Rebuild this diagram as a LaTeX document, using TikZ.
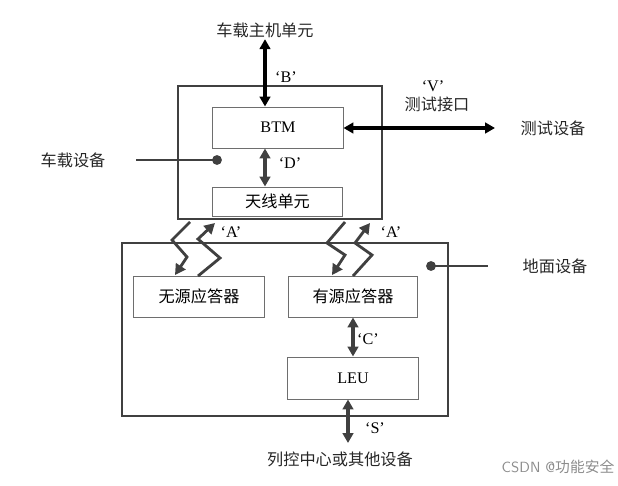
\documentclass[tikz,border=0pt]{standalone}
\usepackage{fontspec}
\setmainfont{Liberation Serif}
\newfontfamily\cjk{Noto Sans CJK SC}
\usetikzlibrary{positioning}
\usetikzlibrary{arrows.meta}
\definecolor{linegray}{HTML}{404040}
\definecolor{boxgray}{HTML}{6E6E6E}
\tikzset{
    outerbox/.style = {rectangle, draw=linegray, line width=1.4pt, inner sep=0pt},
    innerbox/.style = {rectangle, draw=boxgray, line width=0.7pt, inner sep=0pt, font=\fontsize{11.5}{14}\selectfont},
    cjktext/.style = {inner sep=1pt, font=\cjk\fontsize{11.5}{14}\selectfont, text=black!85},
    tagtext/.style = {inner sep=1pt, font=\fontsize{11.5}{14}\selectfont},
    edgek/.style = {{Triangle[length=7pt,width=7.5pt]}-{Triangle[length=7pt,width=7.5pt]}, line width=2.2pt, black},
    edgeg/.style = {{Triangle[length=7pt,width=7.5pt]}-{Triangle[length=7pt,width=7.5pt]}, line width=2.2pt, linegray},
    edgez/.style = {-{Triangle[length=7.5pt,width=8pt]}, line width=2pt, linegray, line join=miter},
    edgep/.style = {line width=1.4pt, linegray},
    dotend/.style = {circle, fill=linegray, inner sep=0pt, minimum size=7pt},
}

\begin{document}
\begin{tikzpicture}[x=0.025cm,y=-0.025cm]
\useasboundingbox (0,0) rectangle (618,486);

% boxes
\node[outerbox, minimum width=5.1cm, minimum height=3.325cm] at (280,152.5) (veh) {};
\node[outerbox, minimum width=8.15cm, minimum height=4.325cm] at (285,329.5) (grd) {};
\node[innerbox, minimum width=3.25cm, minimum height=1.025cm] at (278,127.5) (btm) {BTM};
\node[innerbox, minimum width=3.225cm, minimum height=0.725cm] at (277.5,201.5) (ant) {\cjk 天线单元};
\node[innerbox, minimum width=3.25cm, minimum height=1.025cm] at (199,296.5) (pas) {\cjk 无源应答器};
\node[innerbox, minimum width=3.2cm, minimum height=1.025cm] at (353,296.5) (act) {\cjk 有源应答器};
\node[innerbox, minimum width=3.25cm, minimum height=1.05cm] at (353,378) (leu) {LEU};

% texts
\node[cjktext] at (265,30) (host) {车载主机单元};
\node[cjktext] at (437,104) (port) {测试接口};
\node[cjktext] at (553,128) (test) {测试设备};
\node[cjktext] at (73,160) (vehtext) {车载设备};
\node[cjktext] at (555,266) (grdtext) {地面设备};
\node[cjktext] at (340,459) (ctc) {列控中心或其他设备};
\node[tagtext] at (286,77) (tagb) {‘B’};
\node[tagtext] at (433,86) (tagv) {‘V’};
\node[tagtext] at (290,163) (tagd) {‘D’};
\node[tagtext] at (231,232) (taga1) {‘A’};
\node[tagtext] at (391,232) (taga2) {‘A’};
\node[tagtext] at (368,339) (tagc) {‘C’};
\node[tagtext] at (375,428) (tags) {‘S’};
\node[inner sep=0pt, font=\fontsize{10.5}{12}\selectfont\sffamily, text=black!45] at (558,467) (mark) {CSDN @{\cjk 功能安全}};

\coordinate (vend) at (495,128);
\coordinate (send) at (348,443);
\coordinate (vehline) at (136,160);
\coordinate (grdline) at (488,266);

% connectors
\draw[edgek] (host.south) -- (host |- btm.north);
\draw[edgek] (btm.east |- vend) -- (vend);
\draw[edgeg] (host |- btm.south) -- (host |- ant.north);
\draw[edgeg] (act.south) -- (leu.north);
\draw[edgeg] (send |- leu.south) -- (send);

\node[dotend] at (217,160) (vehdot) {};
\node[dotend] at (431,266) (grddot) {};
\draw[edgep] (vehline) -- (vehdot.center);
\draw[edgep] (grddot.center) -- (grdline);

% air gap links
\draw[edgez] (190,222) -- (172,240) -- (187,257) -- (175,275);
\draw[edgez] (198,276) -- (220,258) -- (198,239) -- (215,223);
\draw[edgez] (345,222) -- (327,243) -- (345,255) -- (332,275);
\draw[edgez] (353,276) -- (372,255) -- (355,243) -- (370,223);

\end{tikzpicture}
\end{document}
